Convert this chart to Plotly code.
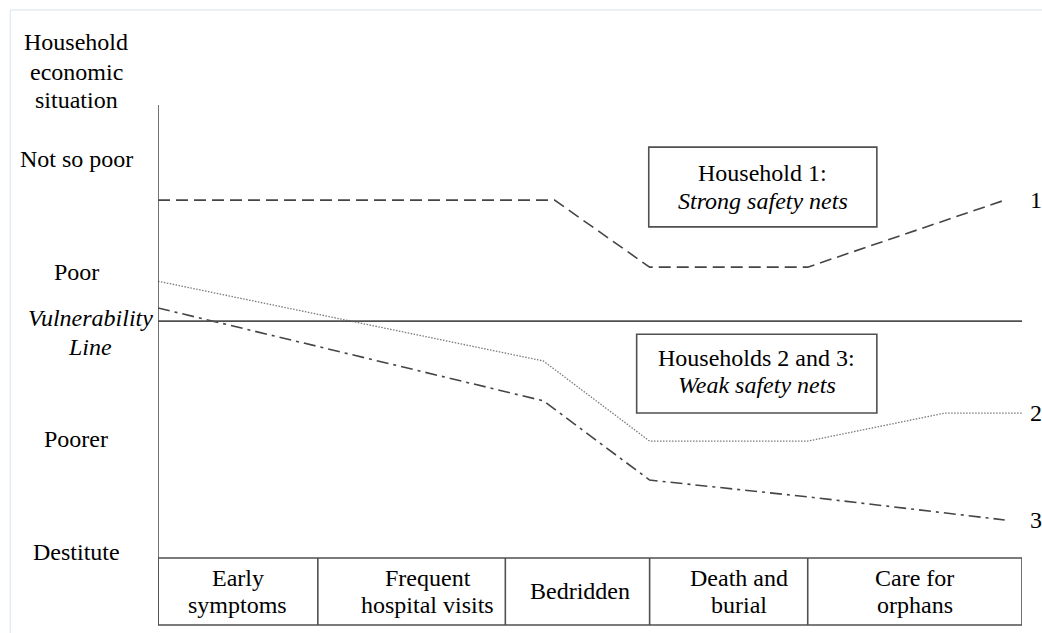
import plotly.graph_objects as go

# ---- data ----
stages = ["Early<br>symptoms", "Frequent<br>hospital visits", "Bedridden",
          "Death and<br>burial", "Care for<br>orphans"]
stage_edges = [0, 18.5, 40.2, 56.9, 75.2, 100]

levels = ["Not so poor", "Poor", "Poorer", "Destitute"]
level_values = [88.1, 63.1, 26.3, 1.3]
vulnerability_value = 52.3

hh1_x = [0, 45.9, 56.9, 75.2, 98.0]
hh1_y = [79.0, 79.0, 64.2, 64.2, 79.0]
hh2_x = [0, 44.6, 56.9, 75.2, 91.1, 100]
hh2_y = [61.1, 43.5, 25.8, 25.8, 32.0, 32.0]
hh3_x = [0, 44.6, 56.9, 75.2, 98.0]
hh3_y = [55.2, 34.7, 17.2, 13.5, 8.4]
series_labels = ["1", "2", "3"]

FONT = "Liberation Serif"
FS = 24
AX = "#505050"

fig = go.Figure()
fig.add_trace(go.Scatter(x=hh1_x, y=hh1_y, mode="lines",
                         line=dict(color="#454545", width=1.6, dash="12px,6px"),
                         hoverinfo="skip", showlegend=False))
fig.add_trace(go.Scatter(x=hh2_x, y=hh2_y, mode="lines",
                         line=dict(color="#7a7a7a", width=1.3, dash="1.5px,1.5px"),
                         hoverinfo="skip", showlegend=False))
fig.add_trace(go.Scatter(x=hh3_x, y=hh3_y, mode="lines",
                         line=dict(color="#454545", width=1.6, dash="12px,5px,3px,5px"),
                         hoverinfo="skip", showlegend=False))

shapes = []
shapes.append(dict(type="line", xref="x", yref="y", x0=stage_edges[0], x1=stage_edges[-1],
                   y0=vulnerability_value, y1=vulnerability_value,
                   line=dict(color=AX, width=1.6)))
shapes.append(dict(type="line", xref="x", yref="paper", x0=0, x1=0, y0=-0.148, y1=1,
                   line=dict(color=AX, width=1.6)))
tb_top, tb_bot = 0, -0.148
shapes.append(dict(type="rect", xref="x", yref="paper", x0=stage_edges[0], x1=stage_edges[-1],
                   y0=tb_bot, y1=tb_top, line=dict(color=AX, width=1.6)))
for e in stage_edges[1:-1]:
    shapes.append(dict(type="line", xref="x", yref="paper", x0=e, x1=e, y0=tb_bot, y1=tb_top,
                       line=dict(color=AX, width=1.6)))
shapes.append(dict(type="rect", xref="x", yref="y", x0=56.8, x1=83.2, y0=73.1, y1=90.7,
                   line=dict(color=AX, width=1.6), fillcolor="white"))
shapes.append(dict(type="rect", xref="x", yref="y", x0=55.4, x1=83.2, y0=32.0, y1=49.4,
                   line=dict(color=AX, width=1.6), fillcolor="white"))
# faint outer frame
shapes.append(dict(type="line", xref="paper", yref="paper", x0=-0.171, x1=1.1, y0=1.2097, y1=1.2097,
                   line=dict(color="#e4ebf3", width=1.5)))
shapes.append(dict(type="line", xref="paper", yref="paper", x0=-0.171, x1=-0.171, y0=-0.2, y1=1.2097,
                   line=dict(color="#e4ebf3", width=1.5)))

ann = []
def txt(text, x, y, xref="paper", yref="paper", xanchor="center", xshift=0):
    ann.append(dict(text=text, x=x, y=y, xref=xref, yref=yref, showarrow=False,
                    xanchor=xanchor, yanchor="middle", xshift=xshift,
                    font=dict(family=FONT, size=FS, color="black")))

LX = -0.0949
for line, py in zip(["Household", "economic", "situation"], [1.139, 1.073, 1.011]):
    txt(line, LX, py)
for name, v in zip(levels, level_values):
    txt(name, LX, v, yref="y")
txt("<i>Vulnerability</i>", -0.0787, 0.530)
txt("<i>Line</i>", -0.0787, 0.466)

label_shift = [0, 16, 3, 10, 0]
for i, s in enumerate(stages):
    mid = (stage_edges[i] + stage_edges[i + 1]) / 2
    parts = s.split("<br>")
    ys = [-0.0442, -0.1038] if len(parts) == 2 else [-0.0728]
    for p, py in zip(parts, ys):
        txt(p, mid, py, xref="x", xshift=label_shift[i])

ends = [hh1_y[-1], hh2_y[-1], hh3_y[-1]]
for lab, ey in zip(series_labels, ends):
    txt(lab, 100, ey, xref="x", yref="y", xanchor="left", xshift=6)

txt("Household 1:", 70.0, 85.0, xref="x", yref="y")
txt("<i>Strong safety nets</i>", 70.0, 78.8, xref="x", yref="y")
txt("Households 2 and 3:", 69.3, 44.2, xref="x", yref="y")
txt("<i>Weak safety nets</i>", 69.3, 38.1, xref="x", yref="y")

fig.update_layout(
    width=1042, height=633,
    margin=dict(l=158, r=20, t=105, b=75),
    paper_bgcolor="white", plot_bgcolor="white",
    xaxis=dict(range=[0, 100], visible=False, fixedrange=True),
    yaxis=dict(range=[0, 100], visible=False, fixedrange=True),
    shapes=shapes, annotations=ann, showlegend=False,
)
fig.write_html("out.html", config={"displayModeBar": False},
               post_script="document.body.style.margin='0';document.body.style.overflow='hidden';")
